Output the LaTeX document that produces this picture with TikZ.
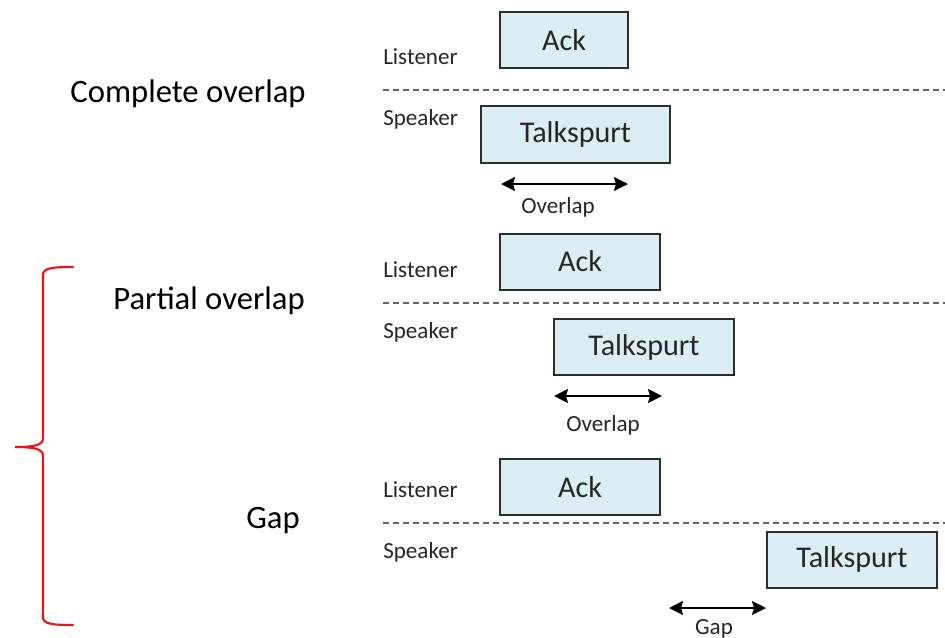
\documentclass[tikz,border=0pt]{standalone}
\usepackage{fontspec}
\setmainfont{Carlito}
\usetikzlibrary{arrows.meta}
\definecolor{boxfill}{RGB}{219,238,244}
\definecolor{boxline}{RGB}{45,45,45}
\definecolor{dashline}{RGB}{100,100,100}
\definecolor{bracered}{RGB}{235,20,20}
\tikzset{
  role/.style={anchor=west, inner sep=0pt, font=\fontsize{17.3}{20}\selectfont, text=black!85},
  case/.style={anchor=center, inner sep=0pt, font=\fontsize{24.5}{28}\selectfont},
  span/.style={anchor=center, inner sep=0pt, font=\fontsize{17.3}{20}\selectfont, text=black!85},
  boxtext/.style={font=\fontsize{22.6}{26}\selectfont, text=black!85},
  timeline/.style={dashline, line width=1.1pt, dash pattern=on 4.5pt off 3pt},
  interval/.style={black, line width=1.5pt, {Stealth[length=10.5pt,width=10.5pt,inset=1.5pt]}-{Stealth[length=10.5pt,width=10.5pt,inset=1.5pt]}},
  brace/.style={bracered, line width=1.6pt, line cap=round}
}
\newcommand{\seg}[5]{% name, x1, y1, x2, y2
  \fill[boxfill] (#2,#3) rectangle (#4,#5);
  \draw[boxline, line width=1.1pt] (#2,#3) rectangle (#4,#5);
}
\begin{document}
\begin{tikzpicture}[x=0.75pt,y=-0.75pt]
\useasboundingbox (0,0) rectangle (945,637);

% ---------- Complete overlap ----------
\node[case] (c1) at (188,94) {Complete overlap};
\node[role] (l1) at (383,57) {Listener};
\node[role] (s1) at (383,119) {Speaker};
\seg{a1}{500}{12}{628}{68}
\node[boxtext] (a1) at (564,40) {Ack};
\seg{t1}{481}{106}{670}{163}
\node[boxtext] (t1) at (575.5,134) {Talkspurt};
\coordinate (d1a) at (383,90);
\coordinate (d1b) at (945,90);
\draw[timeline] (d1a) -- (d1b);
\coordinate (o1a) at (501,184);
\coordinate (o1b) at (628,184);
\draw[interval] (o1a) -- (o1b);
\node[span] (o1) at (558,207) {Overlap};

% ---------- Partial overlap ----------
\node[case] (c2) at (209,301) {Partial overlap};
\node[role] (l2) at (383,270) {Listener};
\node[role] (s2) at (383,332) {Speaker};
\seg{a2}{500}{234}{660}{290}
\node[boxtext] (a2) at (580,261) {Ack};
\seg{t2}{554}{319}{734}{375}
\node[boxtext] (t2) at (644,347) {Talkspurt};
\coordinate (d2a) at (383,303);
\coordinate (d2b) at (945,303);
\draw[timeline] (d2a) -- (d2b);
\coordinate (o2a) at (554,396);
\coordinate (o2b) at (662,396);
\draw[interval] (o2a) -- (o2b);
\node[span] (o2) at (603,425) {Overlap};

% ---------- Gap ----------
\node[case] (c3) at (273,521) {Gap};
\node[role] (l3) at (383,490) {Listener};
\node[role] (s3) at (383,552) {Speaker};
\seg{a3}{500}{459}{660}{515}
\node[boxtext] (a3) at (580,487) {Ack};
\seg{t3}{767}{532}{937}{588}
\node[boxtext] (t3) at (852,559) {Talkspurt};
\coordinate (d3a) at (383,523);
\coordinate (d3b) at (945,523);
\draw[timeline] (d3a) -- (d3b);
\coordinate (g3a) at (669,608);
\coordinate (g3b) at (766,608);
\draw[interval] (g3a) -- (g3b);
\node[span] (g3) at (714,629) {Gap};

% ---------- red brace ----------
\coordinate (bt) at (73,267);
\coordinate (bm) at (15,447);
\coordinate (bb) at (73,625);
\draw[brace] (bt) .. controls (52,267) and (43,268) .. (43,275)
  -- (43,438) .. controls (43,445) and (35,447) .. (bm)
  .. controls (35,447) and (43,449) .. (43,456)
  -- (43,617) .. controls (43,624) and (52,625) .. (bb);
\end{tikzpicture}
\end{document}
